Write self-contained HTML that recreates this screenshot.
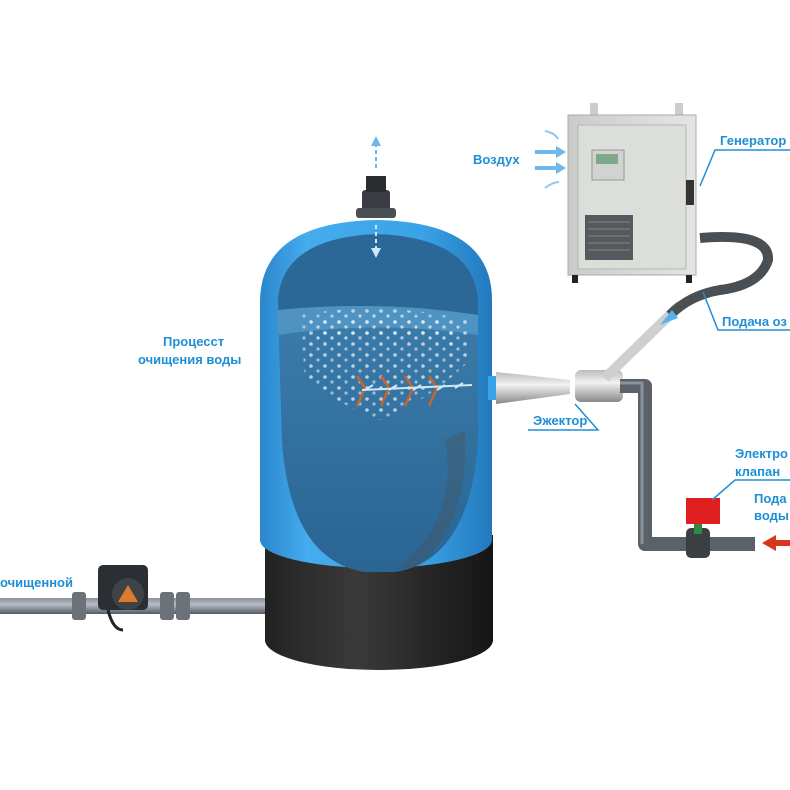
<!DOCTYPE html>
<html><head><meta charset="utf-8"><style>
html,body{margin:0;padding:0;background:#fff}
svg{display:block}
text{font-family:"Liberation Sans",sans-serif;font-weight:bold;font-size:13px;fill:#1e8fd5}
</style></head><body>
<svg width="790" height="790" viewBox="0 0 790 790" xmlns="http://www.w3.org/2000/svg">
<defs>
<linearGradient id="tank" x1="0" x2="1">
<stop offset="0" stop-color="#2b86cc"/><stop offset="0.2" stop-color="#45acee"/><stop offset="0.7" stop-color="#3aa2e6"/><stop offset="1" stop-color="#2378bd"/></linearGradient>
<linearGradient id="water" x1="0" y1="0" x2="0" y2="1">
<stop offset="0" stop-color="#3b7cab"/><stop offset="1" stop-color="#2a6593"/></linearGradient>
<linearGradient id="base" x1="0" x2="1">
<stop offset="0" stop-color="#222"/><stop offset="0.4" stop-color="#3a3a3a"/><stop offset="1" stop-color="#151515"/></linearGradient>
<linearGradient id="pipe" x1="0" y1="0" x2="0" y2="1">
<stop offset="0" stop-color="#8a9099"/><stop offset="0.4" stop-color="#b8bdc4"/><stop offset="1" stop-color="#555b63"/></linearGradient>
<linearGradient id="metal" x1="0" y1="0" x2="0" y2="1">
<stop offset="0" stop-color="#bbb"/><stop offset="0.4" stop-color="#f2f2f2"/><stop offset="1" stop-color="#888"/></linearGradient>
<linearGradient id="box" x1="0" x2="1">
<stop offset="0" stop-color="#c9ccc9"/><stop offset="1" stop-color="#e4e6e3"/></linearGradient>
<pattern id="bub" width="14" height="11" patternUnits="userSpaceOnUse">
<circle cx="3" cy="3" r="1.8" fill="#dfe8ee" opacity="0.8"/><circle cx="10" cy="8" r="1.6" fill="#cfdde6" opacity="0.7"/></pattern>
</defs>

<!-- left pipe -->
<rect x="0" y="598" width="268" height="16" fill="url(#pipe)"/>
<rect x="160" y="592" width="14" height="28" rx="3" fill="#6c727a"/>
<rect x="176" y="592" width="14" height="28" rx="3" fill="#6c727a"/>
<rect x="72" y="592" width="14" height="28" rx="3" fill="#6c727a"/>
<rect x="98" y="565" width="50" height="45" rx="5" fill="#2b2e32"/>
<circle cx="128" cy="594" r="16" fill="#3e4348"/>
<polygon points="118,602 128,585 138,602" fill="#e07a2a"/>
<path d="M108 610 q5 20 15 20" stroke="#222" stroke-width="3" fill="none"/>

<!-- tank base -->
<path d="M265 535 L493 535 L493 640 A114 30 0 0 1 265 640 Z" fill="url(#base)"/>
<!-- tank body -->
<path d="M260 540 L260 300 Q262 222 377 220 Q492 222 492 300 L492 540 A116 28 0 0 1 260 540 Z" fill="url(#tank)"/>
<!-- cutaway -->
<path d="M278 300 Q282 238 377 234 Q474 238 478 300 L478 440 Q470 560 395 572 L365 572 Q290 560 282 440 Z" fill="#2c6897"/>
<path d="M278 310 Q380 300 478 315 L478 440 Q470 560 395 572 L365 572 Q290 560 282 440 Z" fill="url(#water)"/>
<path d="M278 310 Q380 300 478 315 L478 335 Q380 320 278 335 Z" fill="#4f93c2"/>
<path d="M300 315 Q380 300 470 320 L470 360 Q430 400 380 420 Q330 400 305 380 Z" fill="url(#bub)"/>
<path d="M310 320 Q380 305 460 325 L455 345 Q380 330 315 345 Z" fill="url(#bub)"/>
<path d="M445 440 Q460 520 395 570 L420 565 Q470 520 465 430 Z" fill="#4a4f56" opacity="0.35"/>
<!-- ozone plume -->
<g stroke="#c8652c" stroke-width="2.5" fill="none">
<path d="M357 376 l8 12 M381 376 l8 12 M405 376 l8 12 M429 376 l8 12"/>
<path d="M357 406 l8 -18 M381 406 l8 -18 M405 406 l8 -18 M429 406 l8 -18"/>
</g>
<g stroke="#cfe8f7" stroke-width="2" fill="none">
<path d="M365 390 l8 -5 M389 390 l8 -5 M413 390 l8 -5 M437 390 l8 -5 M455 388 l8 -5"/>
<line x1="362" y1="390" x2="472" y2="385"/>
</g>
<!-- top valve -->
<rect x="362" y="190" width="28" height="24" rx="3" fill="#3a3e42"/>
<rect x="366" y="176" width="20" height="16" fill="#2a2d30"/>
<rect x="356" y="208" width="40" height="10" rx="3" fill="#4a4f54"/>
<line x1="376" y1="168" x2="376" y2="140" stroke="#6fb7ea" stroke-width="2" stroke-dasharray="4 3"/>
<polygon points="371,146 376,136 381,146" fill="#6fb7ea"/>
<line x1="376" y1="225" x2="376" y2="252" stroke="#cfe6f7" stroke-width="2" stroke-dasharray="4 3"/>
<polygon points="371,248 376,258 381,248" fill="#cfe6f7"/>

<!-- ejector cone -->
<rect x="488" y="376" width="10" height="24" fill="#3aa2e6"/>
<polygon points="496,372 570,380 570,394 496,404" fill="url(#metal)"/>
<rect x="575" y="370" width="48" height="32" rx="6" fill="url(#metal)"/>
<path d="M620 386 L645 386 L645 544 L755 544" stroke="#5b6168" stroke-width="14" fill="none" stroke-linejoin="round"/>
<path d="M620 383 L642 383 L642 544" stroke="#8b9198" stroke-width="3" fill="none"/>
<rect x="686" y="528" width="24" height="30" rx="5" fill="#3b4043"/>
<rect x="694" y="520" width="8" height="14" fill="#2e8a45"/>
<rect x="686" y="498" width="34" height="26" fill="#e02020"/>
<polygon points="762,543 776,535 776,540 790,540 790,546 776,546 776,551" fill="#d8361a"/>
<line x1="605" y1="378" x2="680" y2="305" stroke="#cfcfcf" stroke-width="10"/>
<path d="M700 238 Q770 232 768 260 Q760 285 720 290 Q690 295 670 315" stroke="#4a4f54" stroke-width="10" fill="none"/>
<polygon points="660,325 672,310 678,318" fill="#5bb1ee"/>

<!-- generator box -->
<rect x="590" y="103" width="8" height="14" fill="#ccc"/><rect x="675" y="103" width="8" height="14" fill="#ccc"/>
<rect x="568" y="115" width="128" height="160" fill="url(#box)" stroke="#aaa"/>
<rect x="578" y="125" width="108" height="144" fill="#dcdeda" stroke="#b5b7b4"/>
<rect x="592" y="150" width="32" height="30" fill="#d0d3d0" stroke="#999"/>
<rect x="596" y="154" width="22" height="10" fill="#7fa88a"/>
<rect x="585" y="215" width="48" height="45" fill="#555a5e"/>
<g stroke="#777" stroke-width="1.5"><line x1="588" y1="222" x2="630" y2="222"/><line x1="588" y1="229" x2="630" y2="229"/><line x1="588" y1="236" x2="630" y2="236"/><line x1="588" y1="243" x2="630" y2="243"/><line x1="588" y1="250" x2="630" y2="250"/></g>
<rect x="686" y="180" width="8" height="25" fill="#333"/>
<rect x="572" y="275" width="6" height="8" fill="#222"/><rect x="686" y="275" width="6" height="8" fill="#222"/>
<g fill="#6fb7ea"><polygon points="535,150 556,150 556,146 566,152 556,158 556,154 535,154"/><polygon points="535,166 556,166 556,162 566,168 556,174 556,170 535,170"/></g>
<path d="M545 131 q10 2 13 8 M545 188 q8 -6 14 -6" stroke="#8cc8ef" stroke-width="2" fill="none"/>

<g stroke="#1e8fd5" stroke-width="1.5" fill="none">
<polyline points="700,186 715,150 790,150"/>
<polyline points="703,292 718,330 790,330"/>
<polyline points="575,404 598,430 528,430"/>
<polyline points="712,500 735,480 790,480"/>
</g>
<text x="473" y="164">Воздух</text>
<text x="720" y="145">Генератор</text>
<text x="722" y="326">Подача оз</text>
<text x="533" y="425">Эжектор</text>
<text x="735" y="458">Электро</text>
<text x="735" y="476">клапан</text>
<text x="754" y="503">Пода</text>
<text x="754" y="520">воды</text>
<text x="163" y="346">Процесст</text>
<text x="138" y="364">очищения воды</text>
<text x="0" y="587">очищенной</text>
</svg>
</body></html>
